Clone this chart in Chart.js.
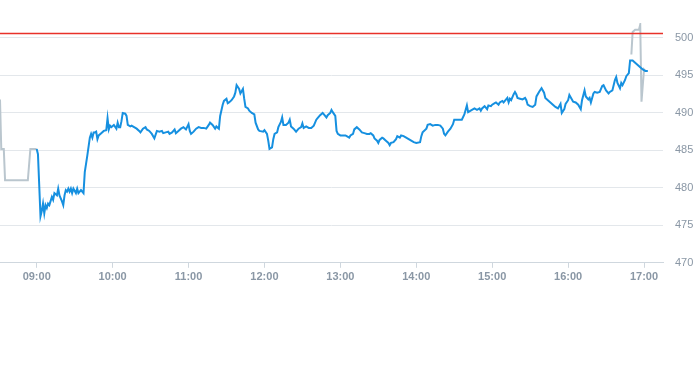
<!DOCTYPE html>
<html>
<head>
<meta charset="utf-8">
<script src="https://cdn.jsdelivr.net/npm/chart.js@4/dist/chart.umd.min.js"></script>
<style>
    body { margin: 0; background: #fff; }
    #wrap { position: relative; width: 693px; height: 287px; }
</style>
</head>
<body>
<div id="wrap"><canvas id="priceChart"></canvas></div>
<script>
// pre-market (grey)
var preTimes = ["08:31", "08:32", "08:34", "08:35", "08:53", "08:55", "09:00"];
var prePrices = [491.8, 485.2, 485.2, 481.0, 481.0, 485.2, 485.2];

// regular session (blue), one row per hour
var sessionTimes = [
    "09:00", "09:01", "09:03", "09:04", "09:05", "09:06", "09:07", "09:08", "09:09", "09:10", "09:12", "09:13", "09:14", "09:16", "09:17", "09:18", "09:20", "09:21", "09:22", "09:23", "09:24", "09:25", "09:26", "09:27", "09:28", "09:29", "09:31", "09:32", "09:33", "09:35", "09:37", "09:38", "09:40", "09:42", "09:43", "09:44", "09:45", "09:46", "09:47", "09:48", "09:49", "09:51", "09:53", "09:55", "09:56", "09:57", "09:58", "09:59",
    "10:01", "10:03", "10:04", "10:05", "10:06", "10:07", "10:08", "10:10", "10:11", "10:12", "10:14", "10:15", "10:17", "10:19", "10:21", "10:22", "10:24", "10:26", "10:27", "10:29", "10:31", "10:33", "10:35", "10:37", "10:39", "10:40", "10:42", "10:44", "10:45", "10:47", "10:49", "10:50", "10:52", "10:54", "10:56", "10:58",
    "11:00", "11:01", "11:02", "11:04", "11:06", "11:08", "11:10", "11:12", "11:14", "11:16", "11:17", "11:19", "11:21", "11:22", "11:24", "11:25", "11:27", "11:28", "11:30", "11:31", "11:32", "11:34", "11:36", "11:37", "11:38", "11:40", "11:41", "11:42", "11:43", "11:44", "11:45", "11:47", "11:48", "11:50", "11:52", "11:53", "11:55", "11:56", "11:59",
    "12:00", "12:02", "12:03", "12:04", "12:06", "12:07", "12:08", "12:10", "12:11", "12:13", "12:14", "12:15", "12:17", "12:19", "12:20", "12:21", "12:23", "12:25", "12:27", "12:29", "12:30", "12:31", "12:33", "12:35", "12:37", "12:39", "12:41", "12:42", "12:44", "12:46", "12:47", "12:49", "12:50", "12:52", "12:53", "12:54", "12:56", "12:57", "12:58",
    "13:00", "13:02", "13:04", "13:05", "13:07", "13:08", "13:10", "13:11", "13:13", "13:15", "13:17", "13:19", "13:21", "13:23", "13:24", "13:26", "13:27", "13:29", "13:30", "13:31", "13:33", "13:34", "13:36", "13:38", "13:39", "13:40", "13:42", "13:44", "13:45", "13:47", "13:48", "13:50", "13:52", "13:54", "13:56", "13:58",
    "14:00", "14:03", "14:04", "14:05", "14:08", "14:09", "14:11", "14:13", "14:15", "14:17", "14:19", "14:21", "14:22", "14:23", "14:25", "14:27", "14:29", "14:30", "14:32", "14:34", "14:36", "14:38", "14:40", "14:41", "14:43", "14:44", "14:46", "14:48", "14:50", "14:51", "14:52", "14:54", "14:56", "14:57", "14:59",
    "15:00", "15:02", "15:03", "15:05", "15:06", "15:08", "15:09", "15:11", "15:12", "15:13", "15:14", "15:15", "15:17", "15:18", "15:19", "15:20", "15:22", "15:24", "15:26", "15:27", "15:28", "15:30", "15:32", "15:34", "15:35", "15:37", "15:39", "15:41", "15:42", "15:44", "15:46", "15:48", "15:50", "15:52", "15:54", "15:55", "15:57", "15:58",
    "16:00", "16:01", "16:03", "16:04", "16:06", "16:08", "16:10", "16:11", "16:13", "16:14", "16:16", "16:17", "16:18", "16:20", "16:21", "16:23", "16:25", "16:27", "16:28", "16:30", "16:32", "16:33", "16:35", "16:37", "16:38", "16:39", "16:41", "16:42", "16:43", "16:45", "16:46", "16:48", "16:49", "16:51", "16:53", "16:57", "16:59",
    "17:01", "17:03"
];
var sessionPrices = [
    485.2, 484.5, 476.2, 476.9, 477.9, 476.6, 477.7, 477.3, 477.9, 477.7, 478.8, 478.4, 479.3, 479.0, 479.9, 479.0, 478.2, 477.7, 479.0, 479.7, 479.5, 479.9, 479.5, 479.9, 479.3, 479.9, 479.3, 479.9, 479.3, 479.7, 479.3, 482.1, 484.3, 486.7, 487.2, 486.7, 487.4, 487.4, 487.5, 486.5, 487.0, 487.3, 487.6, 487.7, 489.3, 487.8, 488.3, 488.1,
    488.4, 487.9, 488.7, 488.1, 488.1, 488.9, 490.0, 489.9, 489.6, 488.4, 488.2, 488.3, 488.1, 487.9, 487.6, 487.4, 487.9, 488.1, 487.8, 487.6, 487.2, 486.6, 487.6, 487.5, 487.6, 487.3, 487.4, 487.5, 487.2, 487.4, 487.8, 487.3, 487.6, 487.9, 488.1, 487.8,
    488.5, 487.6, 487.2, 487.5, 487.9, 488.1, 488.0, 488.0, 487.9, 488.4, 488.7, 488.4, 487.9, 488.2, 487.9, 489.6, 491.1, 491.6, 491.9, 491.3, 491.4, 491.7, 492.2, 492.7, 493.7, 493.2, 492.6, 492.9, 493.2, 491.9, 490.8, 490.6, 490.3, 490.0, 489.8, 488.7, 487.8, 487.6, 487.5,
    487.7, 487.2, 486.3, 485.2, 485.4, 486.5, 487.2, 487.4, 488.1, 488.8, 489.4, 488.4, 488.4, 488.7, 489.1, 488.2, 487.9, 487.5, 487.9, 488.1, 488.6, 488.0, 488.2, 488.0, 488.0, 488.3, 489.1, 489.3, 489.7, 490.0, 489.8, 489.4, 489.7, 490.0, 490.4, 490.1, 489.6, 487.6, 487.2,
    487.0, 487.0, 487.0, 486.9, 486.7, 487.0, 487.2, 487.8, 488.1, 487.8, 487.4, 487.3, 487.2, 487.2, 487.3, 487.0, 486.6, 486.3, 486.0, 486.4, 486.7, 486.6, 486.3, 486.0, 485.7, 486.0, 486.1, 486.5, 486.9, 486.7, 487.0, 486.9, 486.7, 486.5, 486.3, 486.1,
    486.0, 486.1, 486.9, 487.4, 487.9, 488.4, 488.5, 488.3, 488.4, 488.4, 488.3, 487.9, 487.2, 487.0, 487.5, 487.9, 488.5, 489.1, 489.1, 489.1, 489.1, 489.8, 491.0, 490.1, 490.3, 490.4, 490.6, 490.4, 490.6, 490.3, 490.6, 490.9, 490.5, 491.0, 490.9,
    491.1, 491.3, 491.4, 491.1, 491.4, 491.6, 491.4, 491.8, 492.0, 491.4, 491.9, 491.7, 492.5, 492.8, 492.5, 492.0, 491.9, 491.8, 492.0, 491.7, 491.1, 490.9, 490.8, 491.1, 492.2, 492.8, 493.3, 492.7, 492.0, 491.7, 491.4, 491.1, 490.8, 490.6, 491.2, 490.0, 490.5, 491.2,
    491.7, 492.4, 491.8, 491.5, 491.4, 491.1, 490.5, 491.7, 493.0, 492.2, 491.8, 492.0, 491.4, 492.6, 492.8, 492.7, 492.8, 493.6, 493.7, 493.0, 492.6, 492.8, 493.0, 494.4, 494.8, 494.0, 493.3, 494.0, 493.7, 494.4, 494.9, 495.3, 497.0, 497.0, 496.7, 496.1, 495.8,
    495.6, 495.6
];

// after-hours (grey)
var postTimes = ["16:50", "16:51", "16:53", "16:56", "16:57", "16:58", "17:00", "17:01"];
var postPrices = [497.8, 500.8, 501.1, 501.1, 501.8, 491.5, 495.8, 495.6];

var prevClose = 500.6;

var axisStart = "08:31";
var axisEnd = "17:15";
var hourTicks = ["09:00", "10:00", "11:00", "12:00", "13:00", "14:00", "15:00", "16:00", "17:00"];
var yMin = 470, yMax = 502, yStep = 5;

function toMinutes(t) {
    var p = t.split(":");
    return parseInt(p[0]) * 60 + parseInt(p[1]);
}
function toLabel(m) {
    var h = Math.floor(m / 60), mm = m % 60;
    return (h < 10 ? "0" : "") + h + ":" + (mm < 10 ? "0" : "") + mm;
}
function points(times, prices) {
    return times.map(function (t, i) { return { x: toMinutes(t), y: prices[i] } });
}

var labelColor = '#8a97a5';
Chart.defaults.font.family = 'Arial, "Liberation Sans", Helvetica, sans-serif';

var ctx = document.getElementById('priceChart').getContext('2d');
new Chart(ctx, {
    type: 'line',
    data: {
        datasets: [
            {
                label: 'prev close',
                data: [{ x: toMinutes(axisStart), y: prevClose }, { x: toMinutes(axisEnd), y: prevClose }],
                borderColor: '#e8322a',
                backgroundColor: '#e8322a',
                borderWidth: 1.5,
                order: 0
            },
            {
                data: points(preTimes, prePrices),
                borderColor: '#bac6ce',
                borderWidth: 2,
                order: 2
            },
            {
                data: points(postTimes, postPrices),
                borderColor: '#bac6ce',
                borderWidth: 2,
                order: 2
            },
            {
                data: points(sessionTimes, sessionPrices),
                borderColor: '#1690e0',
                borderWidth: 2,
                order: 1
            }
        ]
    },
    options: {
        responsive: true,
        maintainAspectRatio: false,
        animation: false,
        layout: { padding: { top: 23, left: 0, right: 0, bottom: 0 } },
        elements: {
            point: { radius: 0 },
            line: { tension: 0, fill: false }
        },
        plugins: {
            legend: { display: false },
            tooltip: { enabled: false }
        },
        scales: {
            x: {
                type: 'linear',
                min: toMinutes(axisStart),
                max: toMinutes(axisEnd),
                afterBuildTicks: function (scale) {
                    scale.ticks = hourTicks.map(function (t) { return { value: toMinutes(t) } });
                },
                ticks: {
                    autoSkip: false,
                    maxRotation: 0,
                    padding: 3,
                    color: labelColor,
                    font: { size: 11, weight: 'bold' },
                    callback: function (v) { return toLabel(v) }
                },
                grid: {
                    drawOnChartArea: false,
                    tickLength: 5,
                    color: '#cfd7de'
                },
                border: { color: '#cfd7de' }
            },
            y: {
                position: 'right',
                min: yMin,
                max: yMax,
                afterBuildTicks: function (scale) {
                    scale.ticks = scale.ticks.filter(function (t) { return t.value % yStep === 0 });
                },
                afterFit: function (scale) {
                    scale.width = 30;
                },
                ticks: {
                    stepSize: yStep,
                    padding: 12,
                    color: labelColor,
                    font: { size: 11 }
                },
                grid: {
                    color: '#e3e7eb',
                    drawTicks: false
                },
                border: { display: false }
            }
        }
    }
})
</script>
</body>
</html>
